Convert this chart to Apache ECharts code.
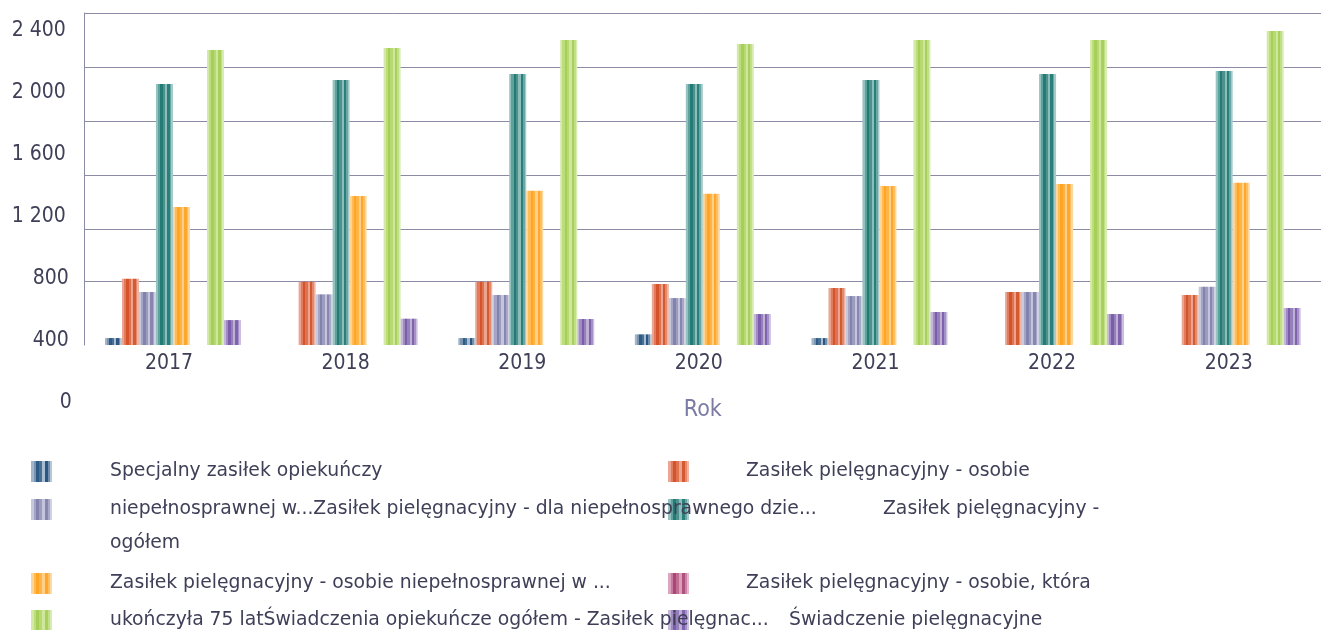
<!DOCTYPE html>
<html>
<head>
<meta charset="utf-8">
<script src="https://cdn.jsdelivr.net/npm/echarts@6/dist/echarts.min.js"></script>
<style>
  html, body { margin: 0; padding: 0; background: #ffffff; }
  #chart { width: 1321px; height: 630px; }
</style>
</head>
<body>
<div id="chart"></div>
<script>
// ---- data ----
const years = ['2017', '2018', '2019', '2020', '2021', '2022', '2023'];

const seriesNames = [
  'Specjalny zasiłek opiekuńczy',
  'Zasiłek pielęgnacyjny - osobie niepełnosprawnej w...',
  'Zasiłek pielęgnacyjny - dla niepełnosprawnego dzie...',
  'Zasiłek pielęgnacyjny - ogółem',
  'Zasiłek pielęgnacyjny - osobie niepełnosprawnej w ...',
  'Zasiłek pielęgnacyjny - osobie, która ukończyła 75 lat',
  'Świadczenia opiekuńcze ogółem - Zasiłek pielęgnac...',
  'Świadczenie pielęgnacyjne'
];

const specjalnyZasilek   = [419, null, 419, 443, 419, null, null];
const zpOsobieNiepelnA   = [802, 783, 783, 768, 742, 716, 697];
const zpDlaDziecka       = [716, 701, 697, 677, 690, 716, 750];
const zpOgolem           = [2058, 2084, 2123, 2058, 2084, 2123, 2142];
const zpOsobieNiepelnB   = [1265, 1335, 1370, 1350, 1400, 1413, 1421];
const zpOsobie75         = [null, null, null, null, null, null, null];
const swiadczeniaOgolem  = [2277, 2290, 2342, 2316, 2342, 2342, 2400];
const swiadczeniePiel    = [535, 544, 542, 574, 587, 574, 613];

const seriesValues = [
  specjalnyZasilek, zpOsobieNiepelnA, zpDlaDziecka, zpOgolem,
  zpOsobieNiepelnB, zpOsobie75, swiadczeniaOgolem, swiadczeniePiel
];

const yTickValues = [0, 400, 800, 1200, 1600, 2000, 2400];
const yTickLabels = ['0', '400', '800', '1 200', '1 600', '2 000', '2 400'];

const xAxisTitle = 'Rok';

// legend captions as they flow under the plot
const legendCaptions = [
  'Specjalny zasiłek opiekuńczy',
  'Zasiłek pielęgnacyjny - osobie',
  'niepełnosprawnej w...Zasiłek pielęgnacyjny - dla niepełnosprawnego dzie...',
  'Zasiłek pielęgnacyjny -',
  'ogółem',
  'Zasiłek pielęgnacyjny - osobie niepełnosprawnej w ...',
  'Zasiłek pielęgnacyjny - osobie, która',
  'ukończyła 75 latŚwiadczenia opiekuńcze ogółem - Zasiłek pielęgnac...',
  'Świadczenie pielęgnacyjne'
];

// ---- layout & style ----
const FONT = "'DejaVu Sans Condensed', 'DejaVu Sans', sans-serif";
const LEGEND_FONT = "'DejaVu Sans', sans-serif";
const TEXT = '#3f4058';
const LINE = '#8b8ba6';

const plotLeft = 84.7;
const plotWidth = 1243;
const barTop = 13, barHeight = 332;        // bars: baseline at y=345
const labelTop = 31, labelHeight = 372;    // value labels: 2400 at y=31, 0 at y=403
// bar axis shares the scale of the value labels (0.155 px per unit)
const pxPerUnit = labelHeight / 2400;
const barAxisMax = (labelTop + labelHeight - barTop) / pxPerUnit;
const barAxisMin = (labelTop + labelHeight - (barTop + barHeight)) / pxPerUnit;

const legendIconPos = [
  [31, 461], [668, 461], [31, 499], [668, 499],
  [31, 573], [668, 573], [31, 610], [668, 610]
];
const captionPos = [
  [110, 471], [746, 471], [110, 509], [883, 509], [110, 543],
  [110, 583], [746, 583], [110, 620], [789, 620]
];

// vertical stripe palettes: light / mid / dark bands
const stripePalettes = [
  ['#a2b6ca', '#7b95b1', '#2e5a86', '#4a6f96', '#a9bdd0', '#2b5683', '#6f8fae', '#b8c7d6'],
  ['#eca592', '#e07c5c', '#d4532a', '#de7352', '#eca38f', '#d55a30', '#e28a6e', '#efb4a3'],
  ['#c8c8dd', '#a4a4c5', '#8283ad', '#9c9cc0', '#c4c4da', '#8686b0', '#a8a8c8', '#d1d1e3'],
  ['#93c2bf', '#5fa19d', '#247a75', '#4d918d', '#8dbdba', '#2a7f7a', '#6aa6a3', '#a4cbc9'],
  ['#ffd495', '#ffbb55', '#ffa424', '#ffb445', '#ffd089', '#ffa62c', '#ffbf61', '#ffd9a0'],
  ['#dca5bd', '#c77a9e', '#ab4478', '#c06d94', '#d9a0ba', '#b0507f', '#c886a6', '#e3b6ca'],
  ['#d3e9a5', '#bcdc7e', '#a5cf56', '#b6d972', '#cfe69e', '#a9d05d', '#c1df87', '#d8ebb0'],
  ['#c5b7db', '#a08bc3', '#7a5ea9', '#9580bc', '#bfb0d6', '#7f63ac', '#a591c7', '#cbbfe0']
];
const stripeEdges = [0, 0.13, 0.26, 0.4, 0.54, 0.67, 0.8, 0.9, 1];

function stripes(colors) {
  const stops = [];
  colors.forEach((c, i) => {
    stops.push({ offset: stripeEdges[i], color: c });
    stops.push({ offset: stripeEdges[i + 1], color: c });
  });
  return new echarts.graphic.LinearGradient(0, 0, 1, 0, stops);
}

// value labels sit slightly further left the longer they are
function valueLabel(v) {
  const text = yTickLabels[yTickValues.indexOf(v)];
  const style = v >= 1000 ? 'wide' : (v > 0 ? 'mid' : 'narrow');
  return '{' + style + '|' + text + '}';
}

const chart = echarts.init(document.getElementById('chart'), null, { renderer: 'canvas' });

const labelRich = {
  wide: { fontSize: 21, fontFamily: FONT, color: TEXT, padding: [0, 6, 0, 0] },
  mid: { fontSize: 21, fontFamily: FONT, color: TEXT, padding: [0, 3, 0, 0] },
  narrow: { fontSize: 21, fontFamily: FONT, color: TEXT, padding: [0, 0, 0, 0] }
};

const option = {
  animation: false,
  backgroundColor: '#ffffff',
  textStyle: { fontFamily: FONT, color: TEXT },
  grid: [
    { left: plotLeft, top: barTop, width: plotWidth, height: barHeight },
    { left: plotLeft, top: 13, width: plotWidth, height: 216 },
    { left: plotLeft, top: 229, width: plotWidth, height: 52 },
    { left: plotLeft, top: labelTop, width: plotWidth, height: labelHeight }
  ],
  xAxis: [
    {
      type: 'category', gridIndex: 0, data: years,
      axisLine: { show: false }, axisTick: { show: false },
      axisLabel: { color: TEXT, fontSize: 21, fontFamily: FONT, margin: 8, padding: [0, 8, 0, 0] },
      name: xAxisTitle, nameLocation: 'middle', nameGap: 54,
      nameTextStyle: { color: '#7b7ba3', fontSize: 23, fontFamily: FONT }
    },
    { type: 'value', gridIndex: 1, show: false },
    { type: 'value', gridIndex: 2, show: false },
    { type: 'value', gridIndex: 3, show: false }
  ],
  yAxis: [
    {
      type: 'value', gridIndex: 0, min: barAxisMin, max: barAxisMax,
      axisLine: { show: true, lineStyle: { color: LINE, width: 1 } },
      axisTick: { show: false }, axisLabel: { show: false }, splitLine: { show: false }
    },
    {
      type: 'value', gridIndex: 1, min: 0, max: 4, interval: 1,
      axisLine: { show: false }, axisTick: { show: false }, axisLabel: { show: false },
      splitLine: { show: true, lineStyle: { color: LINE, width: 1 } }
    },
    {
      type: 'value', gridIndex: 2, min: 0, max: 1, interval: 1,
      axisLine: { show: false }, axisTick: { show: false }, axisLabel: { show: false },
      splitLine: { show: true, lineStyle: { color: LINE, width: 1 } }
    },
    {
      type: 'value', gridIndex: 3, min: 0, max: 2400, interval: 400,
      axisLine: { show: false }, axisTick: { show: false }, splitLine: { show: false },
      axisLabel: {
        color: TEXT, fontSize: 21, fontFamily: FONT, margin: 13,
        formatter: valueLabel, rich: labelRich
      }
    }
  ],
  legend: seriesNames.map((name, i) => ({
    data: [name],
    left: legendIconPos[i][0], top: legendIconPos[i][1],
    padding: 0, itemWidth: 21, itemHeight: 21, icon: 'rect',
    formatter: () => '', z: 2
  })),
  graphic: legendCaptions.map((text, i) => ({
    type: 'text', x: captionPos[i][0], y: captionPos[i][1], z: 100, silent: true,
    style: { text, fill: TEXT, font: '18.8px ' + LEGEND_FONT, verticalAlign: 'middle' }
  })),
  series: seriesNames.map((name, i) => ({
    name, type: 'bar', xAxisIndex: 0, yAxisIndex: 0,
    data: seriesValues[i],
    barWidth: 17, barGap: '0%',
    itemStyle: { color: stripes(stripePalettes[i]) },
    clip: true
  }))
};

chart.setOption(option);
</script>
</body>
</html>
